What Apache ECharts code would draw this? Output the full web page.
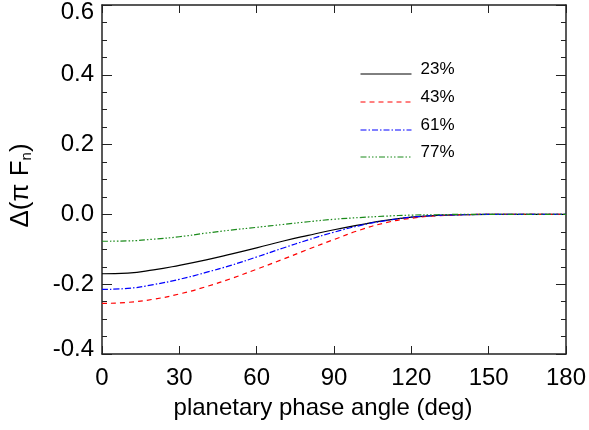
<!DOCTYPE html>
<html>
<head>
<meta charset="utf-8">
<script src="https://cdn.jsdelivr.net/npm/echarts@6/dist/echarts.min.js"></script>
<style>
  html, body { margin: 0; padding: 0; background: #fff; }
  #chart { width: 589px; height: 430px; }
</style>
</head>
<body>
<div id="chart"></div>
<script>
// phase angle samples (deg)
var angles = [0, 10, 20, 30, 40, 50, 60, 70, 80, 90, 100, 110, 120, 130, 140, 150, 160, 170, 180];
// delta(pi Fn), one array per cloud fraction
var f23 = [-0.170, -0.168, -0.159, -0.146, -0.131, -0.114, -0.096, -0.077, -0.060, -0.044, -0.030, -0.017, -0.008, -0.003, -0.001, 0, 0, 0, 0];
var f43 = [-0.255, -0.252, -0.243, -0.228, -0.208, -0.184, -0.157, -0.129, -0.100, -0.072, -0.045, -0.024, -0.011, -0.004, -0.001, 0, 0, 0, 0];
var f61 = [-0.215, -0.212, -0.201, -0.186, -0.167, -0.146, -0.122, -0.097, -0.073, -0.051, -0.032, -0.018, -0.008, -0.003, -0.001, 0, 0, 0, 0];
var f77 = [-0.077, -0.076, -0.071, -0.064, -0.054, -0.045, -0.037, -0.029, -0.021, -0.014, -0.009, -0.005, -0.002, -0.001, 0, 0, 0, 0, 0];
var names = ['23%', '43%', '61%', '77%'];
var xTicks = [0, 30, 60, 90, 120, 150, 180];
var yTicks = [-0.4, -0.2, 0.0, 0.2, 0.4, 0.6];

var font = '"Liberation Sans", Arial, Helvetica, sans-serif';
var colors = ['#000000', '#ff0000', '#0000ff', '#1a8a1a'];
var dashes = ['solid', [5, 4], [6, 2, 1.5, 2], [6, 2, 1.5, 2, 1.5, 2, 1.5, 2]];
var legendY = [74, 102, 130, 157];

function pairs(ys) {
    return angles.map(function (a, i) { return [a, ys[i]]; });
}

var myChart = echarts.init(document.getElementById('chart'));

var axisLine = { show: true, onZero: false, lineStyle: { color: '#222', width: 1.5 } };

var option = {
    animation: false,
    grid: { left: 101, right: 23, top: 4, bottom: 76 },
    // one legend per line so each row sits where it does in the figure
    legend: names.map(function (n, i) {
        return {
            data: [n],
            left: 360,
            top: legendY[i] - 13.5,
            padding: 0,
            itemWidth: 51,
            itemHeight: 10,
            itemStyle: { color: 'rgba(0,0,0,0)', borderColor: 'rgba(0,0,0,0)', borderWidth: 0 },
            lineStyle: { width: 1 },
            formatter: '{a|{name}}',
            textStyle: {
                rich: { a: { fontFamily: font, fontSize: 17, color: '#000', padding: [0, 0, 10, 4] } }
            }
        };
    }),
    xAxis: [{
        type: 'value',
        min: 0, max: 180, interval: 30,
        name: 'planetary phase angle (deg)',
        nameLocation: 'middle',
        nameGap: 42,
        nameTextStyle: { fontFamily: font, fontSize: 24, color: '#000', padding: [0, 22, 0, 0] },
        axisLine: axisLine,
        axisTick: { inside: true, length: 8, lineStyle: { color: '#222' } },
        axisLabel: { fontFamily: font, fontSize: 24, color: '#000', margin: 12 },
        splitLine: { show: false }
    }, {
        type: 'value', position: 'top',
        min: 0, max: 180, interval: 30,
        axisLine: axisLine,
        axisTick: { inside: true, length: 8, lineStyle: { color: '#222' } },
        axisLabel: { show: false },
        splitLine: { show: false }
    }],
    yAxis: [{
        type: 'value',
        min: -0.4, max: 0.6, interval: 0.2,
        name: '{a|Δ(π F}{s|n}{a|)}',
        nameLocation: 'middle',
        nameGap: 68,
        nameTextStyle: {
            padding: [0, 12, 0, 0],
            rich: {
                a: { fontFamily: font, fontSize: 26, color: '#000' },
                s: { fontFamily: font, fontSize: 15, color: '#000', verticalAlign: 'bottom', padding: [9, 0, 0, 0] }
            }
        },
        axisLine: axisLine,
        axisTick: { inside: true, length: 10, lineStyle: { color: '#222' } },
        minorTick: { show: true, splitNumber: 4, length: 5, lineStyle: { color: '#222' } },
        axisLabel: {
            fontFamily: font, fontSize: 24, color: '#000', margin: 8,
            formatter: function (v) {
                var s = v.toFixed(1);
                if (v > 0.55) return '{t|' + s + '}';
                if (v < -0.35) return '{b|' + s + '}';
                return s;
            },
            rich: {
                t: { fontFamily: font, fontSize: 24, color: '#000', padding: [14, 0, 0, 0] },
                b: { fontFamily: font, fontSize: 24, color: '#000', padding: [0, 0, 10, 0] }
            }
        },
        splitLine: { show: false }
    }, {
        type: 'value', position: 'right',
        min: -0.4, max: 0.6, interval: 0.2,
        axisLine: axisLine,
        axisTick: { inside: true, length: 10, lineStyle: { color: '#222' } },
        minorTick: { show: true, splitNumber: 4, length: 5, lineStyle: { color: '#222' } },
        axisLabel: { show: false },
        splitLine: { show: false }
    }],
    series: [f23, f43, f61, f77].map(function (ys, i) {
        return {
            name: names[i],
            type: 'line',
            smooth: true,
            showSymbol: false,
            symbol: 'none',
            data: pairs(ys),
            lineStyle: { color: colors[i], width: 1.2, type: dashes[i] },
            itemStyle: { color: colors[i] }
        };
    })
};

myChart.setOption(option);
</script>
</body>
</html>
